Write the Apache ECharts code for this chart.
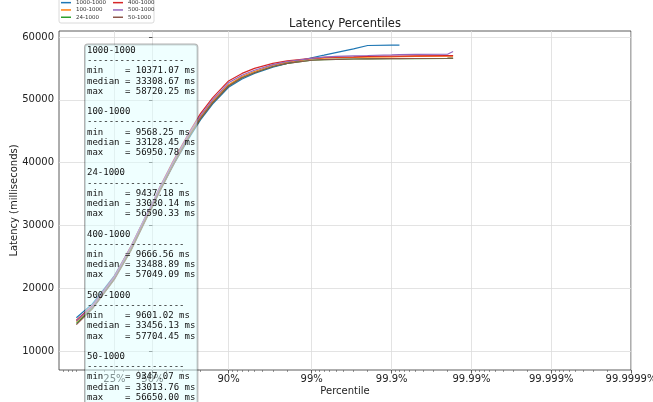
<!DOCTYPE html>
<html><head><meta charset="utf-8">
<script src="https://cdn.jsdelivr.net/npm/echarts@6/dist/echarts.min.js"></script>
<style>html,body{margin:0;padding:0;background:#fff}#c{width:653px;height:402px}</style>
</head><body><div id="c"></div>
<script>
const seriesNames = ['1000-1000', '100-1000', '24-1000', '400-1000', '500-1000', '50-1000'];
const percentiles = [10, 15, 25, 35, 45, 50, 55, 65, 75, 80, 85, 90, 93, 95, 97, 98, 99, 99.3, 99.5, 99.7, 99.8, 99.9, 99.92, 99.95, 99.98, 99.983];
const lat_1000_1000 = [15300, 17500, 22000, 26600, 31300, 33309, 35500, 39800, 44300, 46800, 49300, 52000, 53300, 54200, 55200, 55800, 56700, 57100, 57500, 58100, 58650, 58720, 58720, null, null, null];
const lat_100_1000 = [14700, 17000, 21700, 26300, 31100, 33128, 35600, 40100, 44800, 47300, 49800, 52400, 53700, 54500, 55500, 56000, 56500, 56650, 56700, 56750, 56800, 56850, 56870, 56900, 56940, 56951];
const lat_24_1000 = [14400, 16800, 21500, 26100, 30900, 33030, 35400, 39900, 44500, 47000, 49500, 52200, 53500, 54300, 55300, 55800, 56300, 56400, 56450, 56500, 56520, 56550, 56560, 56570, 56585, 56590];
const lat_400_1000 = [14900, 17200, 21900, 26700, 31400, 33489, 36000, 40500, 45200, 47800, 50300, 53000, 54200, 55000, 55800, 56200, 56600, 56750, 56800, 56850, 56900, 56950, 56970, 57000, 57040, 57049];
const lat_500_1000 = [14800, 17100, 21800, 26600, 31400, 33456, 35900, 40300, 45000, 47500, 50000, 52700, 53900, 54700, 55600, 56100, 56600, 56800, 56900, 57000, 57050, 57150, 57200, 57240, 57250, 57704];
const lat_50_1000 = [14200, 16700, 21400, 26000, 30800, 33014, 35300, 39800, 44500, 47000, 49500, 52200, 53500, 54300, 55300, 55800, 56300, 56400, 56450, 56500, 56520, 56550, 56560, 56580, 56620, 56650];
const minMs = [10371.07, 9568.25, 9437.18, 9666.56, 9601.02, 9347.07];
const medianMs = [33308.67, 33128.45, 33030.14, 33488.89, 33456.13, 33013.76];
const maxMs = [58720.25, 56950.78, 56590.33, 57049.09, 57704.45, 56650.00];
const xTickPercents = [25, 50, 90, 99, 99.9, 99.99, 99.999, 99.9999];
const xTickLabels = ['25%', '50%', '90%', '99%', '99.9%', '99.99%', '99.999%', '99.9999%'];
const xMinorPercents = [7, 8, 9, 10, 20, 30, 40, 60, 70, 80, 91, 92, 93, 94, 95, 96, 97, 98,
  99.1, 99.2, 99.3, 99.4, 99.5, 99.6, 99.7, 99.8,
  99.91, 99.92, 99.93, 99.94, 99.95, 99.96, 99.97, 99.98,
  99.991, 99.992, 99.993, 99.994, 99.995, 99.996, 99.997, 99.998,
  99.9991, 99.9992, 99.9993, 99.9994, 99.9995, 99.9996, 99.9997, 99.9998,
  99.99991, 99.99992, 99.99993, 99.99994, 99.99995, 99.99996, 99.99997, 99.99998];
const yTicks = [10000, 20000, 30000, 40000, 50000, 60000];

const allLat = [lat_1000_1000, lat_100_1000, lat_24_1000, lat_400_1000, lat_500_1000, lat_50_1000];
const colors = ['#1f77b4', '#ff7f0e', '#2ca02c', '#d62728', '#9467bd', '#8c564b'];

function logit(p) { const q = p / 100; return Math.log10(q / (1 - q)); }
const xTickVals = xTickPercents.map(logit);
const xMinorVals = xMinorPercents.map(logit);

const boxText = seriesNames.map((n, i) =>
  n + '\n' + '-'.repeat(18) +
  '\nmin    = ' + minMs[i].toFixed(2) + ' ms' +
  '\nmedian = ' + medianMs[i].toFixed(2) + ' ms' +
  '\nmax    = ' + maxMs[i].toFixed(2) + ' ms').join('\n\n');

const font = 'DejaVu Sans';
const chart = echarts.init(document.getElementById('c'), null, { renderer: 'canvas' });
chart.setOption({
  animation: false,
  backgroundColor: '#fff',
  title: {
    text: 'Latency Percentiles', left: 345, top: 18, textAlign: 'center', padding: 0,
    textStyle: { fontSize: 11.5, fontWeight: 'normal', fontFamily: font, color: '#222' }
  },
  legend: [
    { data: seriesNames.slice(0, 3), left: 61, top: -1 },
    { data: seriesNames.slice(3), left: 113, top: -1 }
  ].map(l => Object.assign(l, {
    orient: 'vertical', icon: 'rect', itemWidth: 10, itemHeight: 1.5, itemGap: 0, padding: 0,
    textStyle: { fontSize: 5.5, lineHeight: 7.3, fontFamily: font, color: '#333' }
  })),
  grid: { left: 59, right: 22, top: 31, bottom: 32, show: true, borderColor: '#333', borderWidth: 0.8,
    containLabel: false, outerBoundsMode: 'none' },
  xAxis: [{
    type: 'value', min: -1.172, max: 6.0, position: 'bottom',
    name: 'Percentile', nameLocation: 'middle', nameGap: 16, nameMoveOverlap: false,
    nameTextStyle: { fontSize: 10, fontFamily: font, color: '#222' },
    axisLine: { show: false },
    axisTick: { show: true, length: 3.5, customValues: xTickVals, lineStyle: { color: '#333', width: 0.8 } },
    axisLabel: {
      customValues: xTickVals, margin: 4, fontSize: 10, fontFamily: font, color: '#222',
      formatter: v => { const i = xTickVals.findIndex(t => Math.abs(t - v) < 1e-6); return i >= 0 ? xTickLabels[i] : ''; }
    },
    splitLine: { show: true, lineStyle: { color: '#dcdcdc', width: 0.8 } }
  }, {
    type: 'value', min: -1.172, max: 6.0, position: 'bottom',
    axisLine: { show: false }, axisLabel: { show: false }, splitLine: { show: false },
    axisTick: { show: true, length: 2, customValues: xMinorVals, lineStyle: { color: '#555', width: 0.6 } }
  }],
  yAxis: {
    type: 'value', min: 6975, max: 60955,
    name: 'Latency (milliseconds)', nameLocation: 'middle', nameGap: 40, nameMoveOverlap: false,
    nameTextStyle: { fontSize: 10, fontFamily: font, color: '#222' },
    axisLine: { show: false },
    axisTick: { show: true, length: 3.5, customValues: yTicks, lineStyle: { color: '#333', width: 0.8 } },
    axisLabel: { customValues: yTicks, margin: 5, fontSize: 10, fontFamily: font, color: '#222',
      formatter: v => String(Math.round(v)) },
    splitLine: { show: true, lineStyle: { color: '#dcdcdc', width: 0.8 } }
  },
  series: seriesNames.map((n, i) => ({
    name: n, type: 'line', showSymbol: false, color: colors[i],
    lineStyle: { width: 1.2 },
    data: percentiles.map((p, j) => [logit(p), allLat[i][j]]).filter(d => d[1] !== null)
  })),
  graphic: [
    { type: 'rect', z: 0, shape: { x: 59, y: -3, width: 95, height: 26, r: 2 },
      style: { fill: '#fff', stroke: '#d0d0d0', lineWidth: 0.8 } },
    { type: 'text', x: 85, y: 44.5, z: 100,
      style: { text: boxText, fontSize: 9, fontFamily: 'DejaVu Sans Mono', fill: '#111', lineHeight: 10.2,
        backgroundColor: 'rgba(224,255,255,0.5)', borderColor: 'rgba(0,0,0,0.3)', borderWidth: 1,
        borderRadius: 3, padding: [1, 2, 4, 2] } }
  ]
});
</script></body></html>
